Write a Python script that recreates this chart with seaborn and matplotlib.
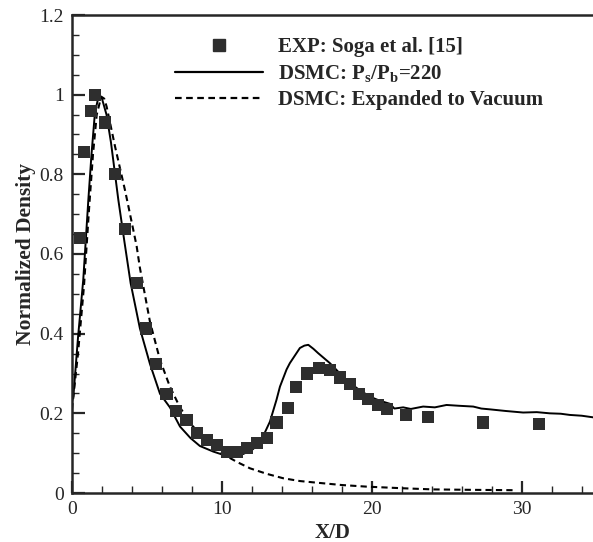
import numpy as np
import pandas as pd
import matplotlib
matplotlib.use('Agg')
import matplotlib.pyplot as plt
from matplotlib.lines import Line2D
from matplotlib.ticker import MultipleLocator
import seaborn as sns

# experiment (Soga et al.)
exp_x = [0.53, 0.8, 1.24, 1.53, 2.2, 2.85, 3.53, 4.36, 4.93, 5.58, 6.3, 6.93, 7.64,
         8.31, 8.98, 9.67, 10.31, 11.0, 11.7, 12.36, 12.98, 13.64, 14.4, 14.96, 15.69,
         16.47, 17.2, 17.87, 18.53, 19.16, 19.76, 20.42, 21.02, 22.3, 23.76, 27.42, 31.13]
exp_y = [0.64, 0.857, 0.96, 1.0, 0.93, 0.8, 0.663, 0.527, 0.413, 0.324, 0.249, 0.205, 0.183,
         0.15, 0.133, 0.12, 0.104, 0.104, 0.112, 0.125, 0.137, 0.177, 0.214, 0.266, 0.30,
         0.313, 0.309, 0.29, 0.274, 0.249, 0.235, 0.221, 0.21, 0.196, 0.19, 0.177, 0.173]

# DSMC Ps/Pb = 220
dsmc_x = [0, 0.09, 0.4, 0.75, 1.09, 1.3, 1.53, 1.8, 2.0, 2.3, 2.6, 3.09, 3.5, 3.91, 4.53,
          5.2, 5.87, 6.53, 7.2, 7.9, 8.53, 9.42, 10.31, 10.9, 11.42, 12.0, 12.53, 13.2,
          13.64, 13.87, 14.31, 14.53, 15.2, 15.5, 15.76, 16.1, 16.42, 17.2, 17.87, 18.53,
          19.2, 19.87, 20.5, 21.2, 21.5, 22.09, 22.6, 23.42, 24.2, 24.98, 25.8, 26.76,
          27.3, 27.87, 28.9, 30.09, 31.0, 31.87, 32.6, 33.2, 34.0, 34.75]
dsmc_y = [0.23, 0.242, 0.39, 0.535, 0.736, 0.85, 0.955, 1.0, 0.99, 0.95, 0.88, 0.736, 0.63,
          0.527, 0.413, 0.324, 0.249, 0.215, 0.167, 0.138, 0.118, 0.104, 0.093, 0.094, 0.098,
          0.108, 0.125, 0.179, 0.234, 0.267, 0.31, 0.326, 0.364, 0.37, 0.372, 0.362, 0.351,
          0.326, 0.30, 0.276, 0.258, 0.242, 0.232, 0.224, 0.212, 0.215, 0.211, 0.217, 0.215,
          0.221, 0.219, 0.217, 0.212, 0.21, 0.206, 0.202, 0.203, 0.2, 0.199, 0.196, 0.194, 0.19]

# DSMC expanded to vacuum
vac_x = [0, 0.4, 0.8, 1.15, 1.4, 1.65, 1.95, 2.15, 2.31, 2.87, 3.53, 3.76, 4.31, 4.53,
         5.2, 5.87, 6.53, 7.2, 8.0, 9.0, 10.2, 11.0, 11.87, 13.0, 14.09, 15.2, 16.3,
         18.0, 19.64, 22.0, 24.09, 26.5, 29.6]
vac_y = [0.21, 0.35, 0.52, 0.72, 0.85, 0.95, 0.995, 0.99, 0.97, 0.87, 0.761, 0.72, 0.62, 0.565,
         0.43, 0.334, 0.267, 0.215, 0.17, 0.13, 0.095, 0.078, 0.062, 0.048, 0.037, 0.03, 0.026,
         0.02, 0.016, 0.012, 0.009, 0.008, 0.007]

sns.set_style("ticks")
plt.rcParams['font.family'] = ['Liberation Serif', 'DejaVu Serif']
plt.rcParams['mathtext.fontset'] = 'custom'
plt.rcParams['mathtext.rm'] = 'Liberation Serif:bold'
plt.rcParams['mathtext.it'] = 'Liberation Serif:bold'

fig = plt.figure(figsize=(5.93, 5.42), dpi=100)
ax = fig.add_axes([72 / 593, 49 / 542, 1 - 72 / 593, 478 / 542])

sq_color = '#2e2e2e'
sns.lineplot(x=dsmc_x, y=dsmc_y, sort=False, estimator=None, color='black', linewidth=1.4, ax=ax)
sns.lineplot(x=vac_x, y=vac_y, sort=False, estimator=None, color='black', linewidth=1.5,
             linestyle=(0, (3, 2)), ax=ax)
sns.scatterplot(x=exp_x, y=exp_y, marker='s', s=76, color=sq_color, edgecolor='none',
                zorder=3, ax=ax)

ax.set_xlim(0, 34.75)
ax.set_ylim(0, 1.2)
ax.xaxis.set_major_locator(MultipleLocator(10))
ax.xaxis.set_minor_locator(MultipleLocator(2))
ax.yaxis.set_major_locator(MultipleLocator(0.2))
ax.yaxis.set_minor_locator(MultipleLocator(0.05))
ax.set_yticks([0, 0.2, 0.4, 0.6, 0.8, 1.0, 1.2])
ax.set_yticklabels(['0', '0.2', '0.4', '0.6', '0.8', '1', '1.2'])
ax.tick_params(which='major', direction='in', length=9, width=1.6, labelsize=14, pad=6)
ax.tick_params(which='minor', direction='in', length=5, width=1.0)

for s in ['left', 'bottom', 'top']:
    ax.spines[s].set_linewidth(1.8)
ax.spines['right'].set_visible(False)

ax.set_xlabel('X/D', fontsize=15, fontweight='bold', labelpad=3)
ax.set_ylabel('Normalized Density', fontsize=15.5, fontweight='bold', labelpad=2)

handles = [
    Line2D([], [], marker='s', linestyle='none', markersize=8.5, color=sq_color),
    Line2D([], [], color='black', linewidth=1.6),
    Line2D([], [], color='black', linewidth=1.6, linestyle=(0, (3, 2))),
]
labels = ['EXP: Soga et al. [15]', r'DSMC: P$_{\rm s}$/P$_{\rm b}$=220', 'DSMC: Expanded to Vacuum']
leg = ax.legend(handles, labels, loc='upper left', bbox_to_anchor=(0.198, 0.953),
                frameon=False, handlelength=4.2, handletextpad=0.72, labelspacing=0.28,
                borderpad=0, borderaxespad=0,
                prop={'family': 'Liberation Serif', 'weight': 'bold', 'size': 15})

fig.savefig('out.png', dpi=100)
